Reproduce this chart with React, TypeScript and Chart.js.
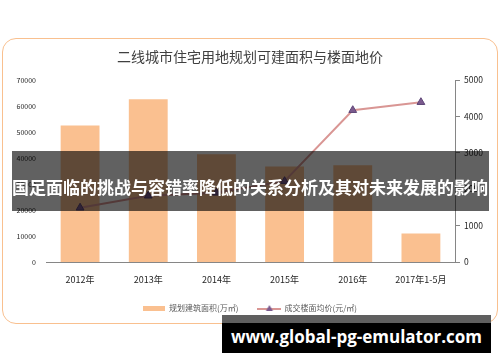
import React, { useEffect, useRef } from 'react';
import { Chart, registerables } from 'chart.js';

Chart.register(...registerables);

// ---- data ----
const chartTitle = '二线城市住宅用地规划可建面积与楼面地价';
const categories = ['2012年', '2013年', '2014年', '2015年', '2016年', '2017年1-5月'];
const areaLabel = '规划建筑面积(万㎡)';
const priceLabel = '成交楼面均价(元/㎡)';
const areaValues = [52500, 62600, 41400, 36700, 37200, 11000];
const priceValues = [1490, 1820, 1900, 2220, 4170, 4390];
const leftAxisMin = 0;
const leftAxisMax = 70000;
const leftAxisStep = 10000;
const rightAxisMin = 0;
const rightAxisMax = 5000;
const rightAxisStep = 1000;
const bannerText = '国足面临的挑战与容错率降低的关系分析及其对未来发展的影响';
const watermarkText = 'www.global-pg-emulator.com';

// ---- styles ----
const barColor = '#FAC090';
const lineColor = '#D99694';
const markerColor = '#7B5A8E';
const markerBorder = '#5E4577';
const axisColor = '#868686';
const FONT = '"Noto Sans CJK SC", "Noto Sans", sans-serif';

function makeSwatch(w: number, h: number, draw: (ctx: CanvasRenderingContext2D) => void) {
  const c = document.createElement('canvas');
  c.width = w;
  c.height = h;
  const ctx = c.getContext('2d');
  if (ctx) draw(ctx);
  return c;
}

export default function App() {
  const canvasRef = useRef<HTMLCanvasElement | null>(null);

  useEffect(() => {
    const canvas = canvasRef.current;
    if (!canvas) return;

    const barSwatch = makeSwatch(22, 5, (ctx) => {
      ctx.fillStyle = barColor;
      ctx.fillRect(0, 0, 22, 5);
    });
    const lineSwatch = makeSwatch(24, 8, (ctx) => {
      ctx.strokeStyle = lineColor;
      ctx.lineWidth = 2;
      ctx.beginPath();
      ctx.moveTo(0, 5);
      ctx.lineTo(24, 5);
      ctx.stroke();
      ctx.fillStyle = markerColor;
      ctx.beginPath();
      ctx.moveTo(12, 1);
      ctx.lineTo(15.5, 7);
      ctx.lineTo(8.5, 7);
      ctx.closePath();
      ctx.fill();
    });

    Chart.defaults.font.family = FONT;

    const chart = new Chart(canvas, {
      type: 'bar',
      data: {
        labels: categories,
        datasets: [
          {
            type: 'bar',
            label: areaLabel,
            data: areaValues,
            backgroundColor: barColor,
            yAxisID: 'y',
            categoryPercentage: 1,
            barPercentage: 0.57,
            order: 1,
          },
          {
            type: 'line',
            label: priceLabel,
            data: priceValues,
            borderColor: lineColor,
            borderWidth: 2,
            backgroundColor: markerColor,
            pointStyle: 'triangle',
            pointRadius: 4.5,
            pointBackgroundColor: markerColor,
            pointBorderColor: markerBorder,
            pointBorderWidth: 1,
            tension: 0,
            yAxisID: 'y1',
            order: 0,
          } as any,
        ],
      },
      options: {
        responsive: false,
        animation: false,
        devicePixelRatio: 1,
        layout: { padding: { top: 0, left: 0, right: 0, bottom: 40 } },
        plugins: {
          tooltip: { enabled: false },
          title: {
            display: true,
            text: chartTitle,
            color: '#404040',
            font: { size: 14, weight: 'normal', family: FONT },
            padding: { top: 48.6, bottom: 14.6 },
          },
          legend: {
            display: true,
            position: 'bottom',
            labels: {
              usePointStyle: true,
              pointStyleWidth: 22,
              padding: 20,
              color: '#595959',
              font: { size: 8, family: FONT },
              sort: (a: any, b: any) => a.datasetIndex - b.datasetIndex,
              generateLabels: (ch: any) => {
                const items = Chart.defaults.plugins.legend.labels.generateLabels(ch);
                return items.map((it: any) => ({
                  ...it,
                  pointStyle: it.datasetIndex === 0 ? barSwatch : lineSwatch,
                }));
              },
            },
          },
        },
        scales: {
          x: {
            type: 'category',
            offset: true,
            grid: { display: false, drawTicks: false },
            border: { display: true, color: axisColor, width: 1 },
            ticks: {
              color: '#262626',
              font: { size: 9, family: FONT },
              padding: 12.6,
              maxRotation: 0,
              autoSkip: false,
            },
            afterFit: (s: any) => {
              s.height = 22;
            },
          },
          y: {
            type: 'linear',
            position: 'left',
            min: leftAxisMin,
            max: leftAxisMax,
            grid: { display: false, drawTicks: false },
            border: { display: false },
            ticks: {
              stepSize: leftAxisStep,
              color: '#1f1f1f',
              font: { size: 7, family: FONT },
              padding: 10,
              callback: (v: any) => String(v),
            },
            afterFit: (s: any) => {
              s.width = 46;
            },
          },
          y1: {
            type: 'linear',
            position: 'right',
            min: rightAxisMin,
            max: rightAxisMax,
            grid: {
              display: true,
              drawOnChartArea: false,
              drawTicks: true,
              tickLength: 5,
              color: axisColor,
              lineWidth: 1,
            },
            border: { display: true, color: axisColor, width: 1 },
            ticks: {
              stepSize: rightAxisStep,
              color: '#1f1f1f',
              font: { size: 8.5, family: FONT },
              padding: 4,
              callback: (v: any) => String(v),
            },
            afterFit: (s: any) => {
              s.width = 45;
            },
          },
        },
      } as any,
    });

    return () => {
      chart.destroy();
    };
  }, []);

  return (
    <div
      style={{
        position: 'fixed',
        left: 0,
        top: 0,
        width: 500,
        height: 362,
        background: '#ffffff',
        overflow: 'hidden',
      }}
    >
      <div
        style={{
          position: 'absolute',
          left: 2,
          top: 38,
          width: 496,
          height: 286,
          boxSizing: 'border-box',
          border: '1.5px solid #F9C08F',
          borderRadius: 14,
        }}
      />
      <canvas
        ref={canvasRef}
        width={500}
        height={362}
        style={{ position: 'absolute', left: 0, top: 0, width: 500, height: 362, display: 'block' }}
      />
      <div
        style={{
          position: 'absolute',
          left: 12,
          top: 151,
          width: 477,
          height: 60,
          background: 'rgba(0,0,0,0.62)',
        }}
      />
      <div
        style={{
          position: 'absolute',
          left: 0,
          top: 177,
          width: 500,
          height: 20,
          lineHeight: '20px',
          textAlign: 'center',
          color: '#ffffff',
          fontFamily: FONT,
          fontWeight: 'bold',
          fontSize: 17,
          whiteSpace: 'nowrap',
        }}
      >
        {bannerText}
      </div>
      <div
        style={{
          position: 'absolute',
          left: 222,
          top: 315,
          width: 269,
          height: 8,
          background: '#5f5f5f',
        }}
      />
      <div
        style={{
          position: 'absolute',
          left: 222,
          top: 323,
          width: 269,
          height: 30,
          background: '#000000',
        }}
      />
      <div
        style={{
          position: 'absolute',
          left: 222,
          top: 325,
          width: 269,
          height: 24,
          lineHeight: '24px',
          textAlign: 'center',
          color: '#ffffff',
          fontFamily: '"Open Sans", sans-serif',
          fontWeight: 'bold',
          fontSize: 17,
          whiteSpace: 'nowrap',
        }}
      >
        {watermarkText}
      </div>
    </div>
  );
}
